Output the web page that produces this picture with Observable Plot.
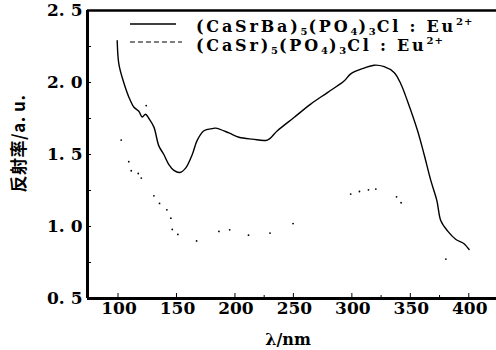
<!DOCTYPE html>
<html><head><meta charset="utf-8">
<script src="https://cdn.jsdelivr.net/npm/d3@7"></script>
<script src="https://cdn.jsdelivr.net/npm/@observablehq/plot@0.6"></script>
<style>
body{margin:0;background:#fff;}
#wrap{position:relative;width:496px;height:350px;overflow:hidden;}
#wrap svg text{font-family:"DejaVu Serif",serif;}
.leg{position:absolute;left:0;font-family:"DejaVu Serif",serif;font-weight:bold;font-size:16px;letter-spacing:2.8px;color:#000;white-space:nowrap;line-height:19px;}
.leg sub,.leg sup{font-size:10px;line-height:0;letter-spacing:1px;}
.leg sub{vertical-align:-3px}
.leg sup{vertical-align:7px}
.ylab{position:absolute;font-family:"Noto Sans CJK SC",sans-serif;font-weight:bold;font-size:17px;letter-spacing:0.5px;transform:rotate(-90deg);transform-origin:center;white-space:nowrap;}
</style></head>
<body><div id="wrap"></div>
<script>
// Series 1: (CaSrBa)5(PO4)3Cl:Eu2+ (solid)
const wl1 = [99.3,100.7,104.5,109.2,113.5,117.8,120.7,123.5,126.4,130.7,134.9,139.2,143.5,147.8,152.9,157.8,163.5,167.8,173.5,180.6,183.5,194.9,203.4,214.9,227.7,236.3,250.5,264.8,279.1,293.3,299,310.4,319,327.6,336.1,341.9,347.6,356.2,361.8,367.5,372.7,376.1,381.8,389,396,400.3];
const r1  = [2.29,2.13,2.01,1.90,1.83,1.80,1.76,1.78,1.75,1.69,1.56,1.50,1.43,1.39,1.375,1.405,1.50,1.60,1.665,1.68,1.683,1.65,1.62,1.607,1.60,1.665,1.757,1.85,1.93,2.01,2.06,2.10,2.12,2.11,2.07,1.99,1.87,1.665,1.50,1.32,1.18,1.04,0.97,0.91,0.88,0.84];
// Series 2: (CaSr)5(PO4)3Cl:Eu2+ (dashed, printed as sparse dots)
const wl2 = [102.7,109.2,111.3,117.3,119.9,124.1,130.7,135.5,141.8,145.2,146.4,151.2,167.2,186.3,195.5,211.6,230,249.7,299,306.5,314.2,320.5,338.2,342.1,380.4];
const r2  = [1.60,1.45,1.387,1.368,1.336,1.84,1.213,1.16,1.116,1.058,0.98,0.945,0.90,0.966,0.977,0.94,0.954,1.02,1.225,1.243,1.255,1.26,1.206,1.165,0.774];
const xTicks = [100,150,200,250,300,350,400];
const xMinor = [225,325,375];
const yTicks = [0.5,1.0,1.5,2.0,2.5];
const yMinor = [0.75,1.0,1.25,1.5,1.75,2.0,2.25];
const legendLabels = ["(CaSrBa)<sub>5</sub>(PO<sub>4</sub>)<sub>3</sub>Cl : Eu<sup>2+</sup>",
                      "(CaSr)<sub>5</sub>(PO<sub>4</sub>)<sub>3</sub>Cl : Eu<sup>2+</sup>"];

const s1 = wl1.map((x,i)=>({x, y:r1[i]}));
const s2 = wl2.map((x,i)=>({x, y:r2[i]}));
const fmt = d => d.toFixed(1).replace(".", ". ");
const H = 350, mt = 10, mb = 52;
const ph = H - mt - mb;

const chart = Plot.plot({
  width: 496, height: H,
  marginLeft: 87, marginRight: 0, marginTop: mt, marginBottom: mb,
  style: {background: "#fff"},
  x: {domain: [73.9, 423.7]},
  y: {domain: [0.5, 2.5]},
  marks: [
    Plot.axisX(xTicks, {tickSize: 0, tickPadding: 3, fontSize: 17, fontWeight: "bold", fill: "#000", label: null, dx: 1}),
    Plot.axisY(yTicks, {tickSize: 0, tickPadding: 5, fontSize: 17, fontWeight: "bold", fill: "#000", tickFormat: fmt, label: null}),
    Plot.tickX(xTicks, {x: d=>d, insetTop: ph-5, stroke: "#000", strokeWidth: 1}),
    Plot.tickX(xMinor, {x: d=>d, insetTop: ph-3, stroke: "#000", strokeWidth: 1}),
    Plot.tickY(yMinor, {y: d=>d, insetRight: 496-87-4, stroke: "#000", strokeWidth: 1}),
    Plot.line(s1, {x: "x", y: "y", stroke: "#000", strokeWidth: 1.4, curve: "catmull-rom"}),
    Plot.dot(s2, {x: "x", y: "y", r: 0.9, fill: "#000", stroke: null}),
    Plot.ruleY([2.5], {stroke: "#000", strokeWidth: 2.5}),
    Plot.ruleY([0.5], {stroke: "#000", strokeWidth: 3}),
    Plot.ruleX([73.9], {stroke: "#000", strokeWidth: 3}),
    Plot.text(["λ/nm"], {frameAnchor: "bottom", dy: 46, fontSize: 16, fontWeight: "bold", fill: "#000", dx: -4})
  ]
});
const wrap = document.getElementById("wrap");
wrap.appendChild(chart);

// legend (inside plot area, top)
const legSvg = document.createElementNS("http://www.w3.org/2000/svg","svg");
legSvg.setAttribute("width", 496); legSvg.setAttribute("height", 60);
legSvg.style.position = "absolute"; legSvg.style.left = "0"; legSvg.style.top = "0";
legSvg.innerHTML = '<line x1="130" x2="176" y1="24" y2="24" stroke="#000" stroke-width="1.3"/>' +
  '<line x1="130" x2="182" y1="42" y2="42" stroke="#000" stroke-width="1.2" stroke-dasharray="5,3"/>';
wrap.appendChild(legSvg);
legendLabels.forEach((t,i)=>{
  const d = document.createElement("div");
  d.className = "leg"; d.innerHTML = t;
  d.style.left = "196px"; d.style.top = (17 + i*19) + "px";
  wrap.appendChild(d);
});
const yl = document.createElement("div");
yl.className = "ylab"; yl.textContent = "反射率/a. u.";
wrap.appendChild(yl);
const w = yl.offsetWidth, h = yl.offsetHeight;
yl.style.left = (18 - w/2) + "px"; yl.style.top = (143 - h/2) + "px";
</script></body></html>
